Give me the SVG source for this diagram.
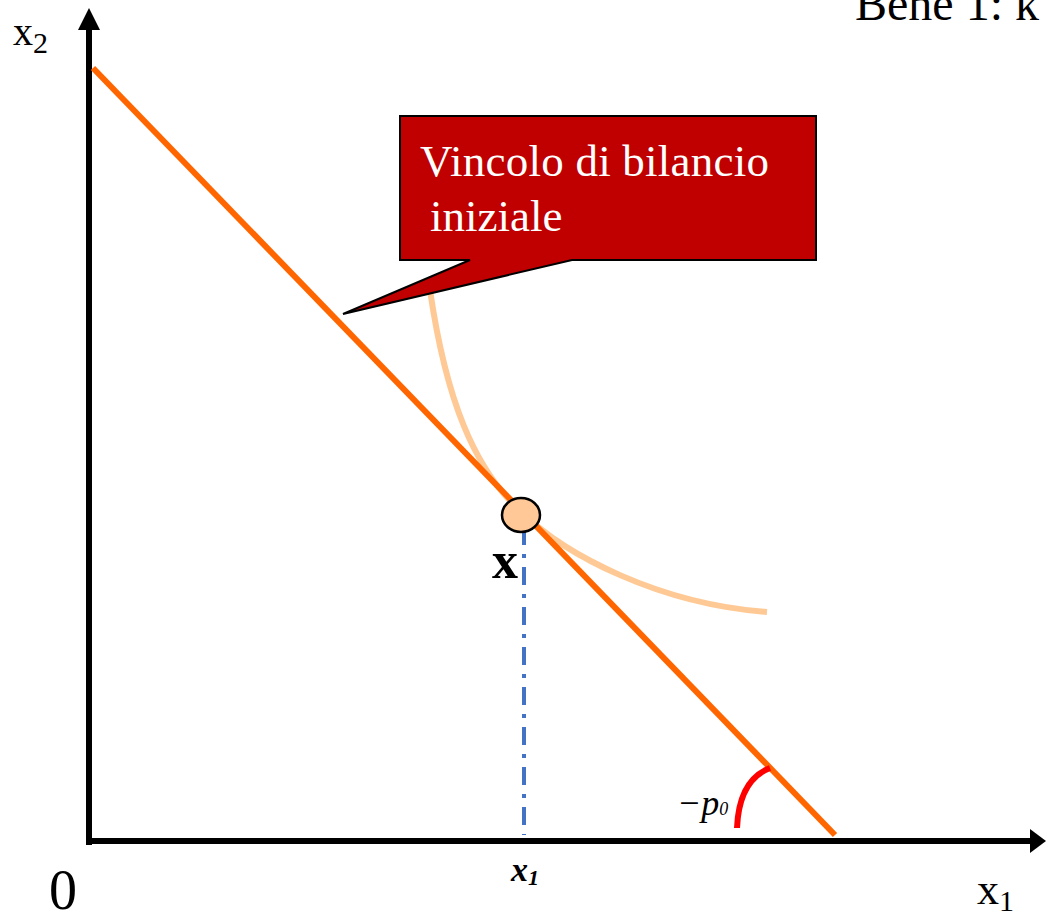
<svg xmlns="http://www.w3.org/2000/svg" width="1048" height="919" viewBox="0 0 1048 919">
<style>
.serif{font-family:"Liberation Serif","Times New Roman",serif;fill:#000}
.axis{stroke:#000;stroke-width:6;fill:none}
</style>
<rect width="1048" height="919" fill="#fff"/>
<text class="serif" x="855" y="20" font-size="48">Bene 1: k</text>
<g id="axes">
<line class="axis" x1="89" y1="845" x2="89" y2="26"/>
<line class="axis" x1="86" y1="841" x2="1032" y2="841"/>
<polygon points="89,8 78,30 100,30" fill="#000"/>
<polygon points="1046,841 1030,829 1030,853" fill="#000"/>
</g>
<g id="labels">
<text class="serif" x="13" y="45" font-size="40">x<tspan font-size="30" dy="8">2</tspan></text>
<text class="serif" x="977" y="904" font-size="44">x<tspan font-size="30" dy="7">1</tspan></text>
<text class="serif" x="49" y="909" font-size="56">0</text>
</g>
<g id="connectors">
<path d="M430,290 C446,400 474,468 520,511 C566,556 660,604 767,612" fill="none" stroke="#FFC995" stroke-width="6"/>
<line x1="93" y1="68" x2="835" y2="835" stroke="#FF6600" stroke-width="6"/>
<line x1="524" y1="527" x2="524" y2="835" stroke="#4472C4" stroke-width="4" stroke-dasharray="18,9,4,9"/>
<path d="M737,828 Q739,780 770,768" fill="none" stroke="#FF0000" stroke-width="6"/>
</g>
<g id="callout">
<path d="M400,116 H816 V260 H572 L343,314 L470,260 H400 Z" fill="#C00000" stroke="#000" stroke-width="2"/>
<text x="420" y="176" font-family="Liberation Serif, serif" font-size="45" fill="#fff" textLength="349">Vincolo di bilancio</text>
<text x="430" y="231" font-family="Liberation Serif, serif" font-size="45" fill="#fff">iniziale</text>
</g>
<g id="point-x">
<ellipse cx="521" cy="515" rx="19" ry="17" fill="#FFC896" stroke="#000" stroke-width="2.5"/>
<text class="serif" x="492" y="578" font-size="52" font-weight="bold">x</text>
</g>
<g id="x1-tick">
<text class="serif" x="511" y="881" font-size="34" font-style="italic" font-weight="bold">x<tspan font-size="22" dy="4">1</tspan></text>
</g>
<g id="slope">
<text class="serif" x="677" y="815" font-size="36" font-style="italic">−p<tspan font-size="18" dy="0">0</tspan></text>
</g>
</svg>
